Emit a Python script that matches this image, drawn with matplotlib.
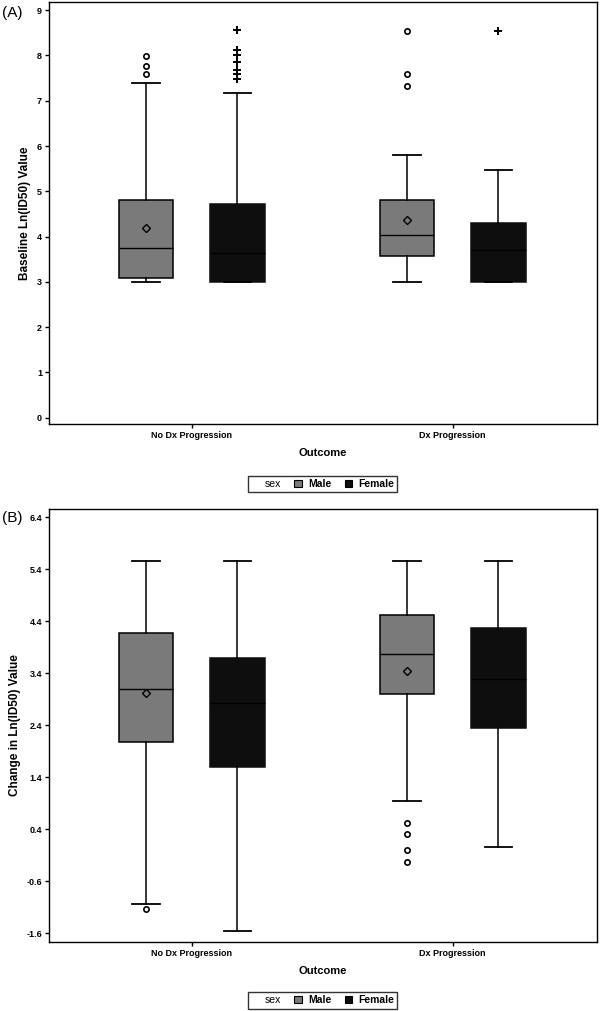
import matplotlib
matplotlib.use("Agg")
import matplotlib.pyplot as plt
from matplotlib.patches import Patch
from matplotlib.lines import Line2D

plt.rcParams['font.family'] = ['Liberation Sans', 'DejaVu Sans']

# ---- data ----
outcomes = ['No Dx Progression', 'Dx Progression']
sexes = ['Male', 'Female']

# panel A: baseline Ln(ID50)
a_male_q1 = [3.08, 3.58]
a_male_med = [3.74, 4.03]
a_male_q3 = [4.81, 4.81]
a_male_lo = [3.00, 3.00]
a_male_hi = [7.40, 5.80]
a_male_mean = [4.18, 4.36]
a_male_out = [[7.99, 7.77, 7.59], [8.54, 7.60, 7.33]]

a_fem_q1 = [3.00, 3.00]
a_fem_med = [3.64, 3.70]
a_fem_q3 = [4.73, 4.29]
a_fem_lo = [3.00, 3.00]
a_fem_hi = [7.17, 5.48]
a_fem_mean = [3.95, 3.75]
a_fem_out = [[8.56, 8.12, 8.01, 7.86, 7.68, 7.59, 7.48], [8.55]]

# panel B: change in Ln(ID50)
b_male_q1 = [2.07, 3.01]
b_male_med = [3.10, 3.77]
b_male_q3 = [4.18, 4.51]
b_male_lo = [-1.04, 0.94]
b_male_hi = [5.55, 5.55]
b_male_mean = [3.03, 3.45]
b_male_out = [[-1.13], [0.53, 0.32, 0.00, -0.22]]

b_fem_q1 = [1.60, 2.34]
b_fem_med = [2.83, 3.29]
b_fem_q3 = [3.70, 4.27]
b_fem_lo = [-1.55, 0.07]
b_fem_hi = [5.55, 5.55]
b_fem_mean = [2.70, 3.20]
b_fem_out = [[], []]

a_yticks = [0, 1, 2, 3, 4, 5, 6, 7, 8, 9]
b_yticks = [-1.6, -0.6, 0.4, 1.4, 2.4, 3.4, 4.4, 5.4, 6.4]

MALE_C = '#7a7a7a'
FEMALE_C = '#0e0e0e'
OFFSET = 0.175
WIDTH = 0.21


def make_stats(q1, med, q3, lo, hi, mean, out):
    return [dict(q1=q1[i], med=med[i], q3=q3[i], whislo=lo[i], whishi=hi[i],
                 mean=mean[i], fliers=out[i]) for i in range(len(q1))]


def draw_panel(ax, male, female, ylim, yticks, ylabel):
    n = len(outcomes)
    pos_m = [i - OFFSET for i in range(n)]
    pos_f = [i + OFFSET for i in range(n)]

    common = dict(widths=WIDTH, capwidths=WIDTH / 2, patch_artist=True,
                  whiskerprops=dict(color='black', lw=1.1),
                  capprops=dict(color='black', lw=1.3),
                  manage_ticks=False)

    ax.bxp(male, positions=pos_m, showmeans=True,
           boxprops=dict(facecolor=MALE_C, edgecolor='black', lw=1.1),
           medianprops=dict(color='black', lw=1.0),
           meanprops=dict(marker='D', markerfacecolor=MALE_C,
                          markeredgecolor='black', markersize=4.5, mew=1.0),
           flierprops=dict(marker='o', markerfacecolor='white',
                           markeredgecolor='black', markersize=3.8, mew=1.2),
           **common)
    ax.bxp(female, positions=pos_f, showmeans=False,
           boxprops=dict(facecolor=FEMALE_C, edgecolor=FEMALE_C, lw=1.1),
           medianprops=dict(color='black', lw=1.0),
           flierprops=dict(marker='+', markeredgecolor='black',
                           markersize=5.5, mew=1.4),
           **common)

    ax.set_xlim(-0.547, 1.553)
    ax.set_ylim(*ylim)
    ax.set_xticks(range(n))
    ax.set_xticklabels(outcomes, fontsize=6.5, fontweight='bold')
    ax.set_yticks(yticks)
    ax.set_yticklabels([f'{t:g}' for t in yticks], fontsize=6.5, fontweight='bold')
    ax.tick_params(axis='both', length=3, width=1, pad=2)
    for s in ax.spines.values():
        s.set_linewidth(1.0)
    ax.set_xlabel('Outcome', fontsize=8, fontweight='bold', labelpad=6)
    ax.set_ylabel(ylabel, fontsize=8.5, fontweight='bold', labelpad=4)


fig = plt.figure(figsize=(6.0, 10.11), dpi=100)
ax_a = fig.add_axes([0.0817, 0.5806, 0.9133, 0.4174])
ax_b = fig.add_axes([0.0817, 0.0685, 0.9133, 0.4277])

draw_panel(ax_a,
           make_stats(a_male_q1, a_male_med, a_male_q3, a_male_lo, a_male_hi, a_male_mean, a_male_out),
           make_stats(a_fem_q1, a_fem_med, a_fem_q3, a_fem_lo, a_fem_hi, a_fem_mean, a_fem_out),
           (-0.14, 9.18), a_yticks, 'Baseline Ln(ID50) Value')
draw_panel(ax_b,
           make_stats(b_male_q1, b_male_med, b_male_q3, b_male_lo, b_male_hi, b_male_mean, b_male_out),
           make_stats(b_fem_q1, b_fem_med, b_fem_q3, b_fem_lo, b_fem_hi, b_fem_mean, b_fem_out),
           (-1.76, 6.55), b_yticks, 'Change in Ln(ID50) Value')

# panel tags
fig.text(0.004, 0.987, '(A)', fontsize=11, ha='left', va='center')
fig.text(0.004, 0.4876, '(B)', fontsize=11, ha='left', va='center')

handles = [Line2D([], [], linestyle='none'),
           Patch(facecolor=MALE_C, edgecolor='black', lw=0.8),
           Patch(facecolor=FEMALE_C, edgecolor='black', lw=0.8)]
labels = ['sex', 'Male', 'Female']
for yc in (0.521, 0.0105):
    leg = fig.legend(handles, labels, ncol=3, loc='center',
                     bbox_to_anchor=(0.5375, yc), frameon=True, fancybox=False,
                     edgecolor='black', fontsize=7.5, handlelength=0.7,
                     handleheight=0.7, handletextpad=0.6, columnspacing=1.3,
                     borderpad=0.3, borderaxespad=0)
    leg.get_frame().set_linewidth(1.0)
    for t in leg.get_texts()[1:]:
        t.set_fontweight('bold')

fig.savefig('out.png', dpi=100)
